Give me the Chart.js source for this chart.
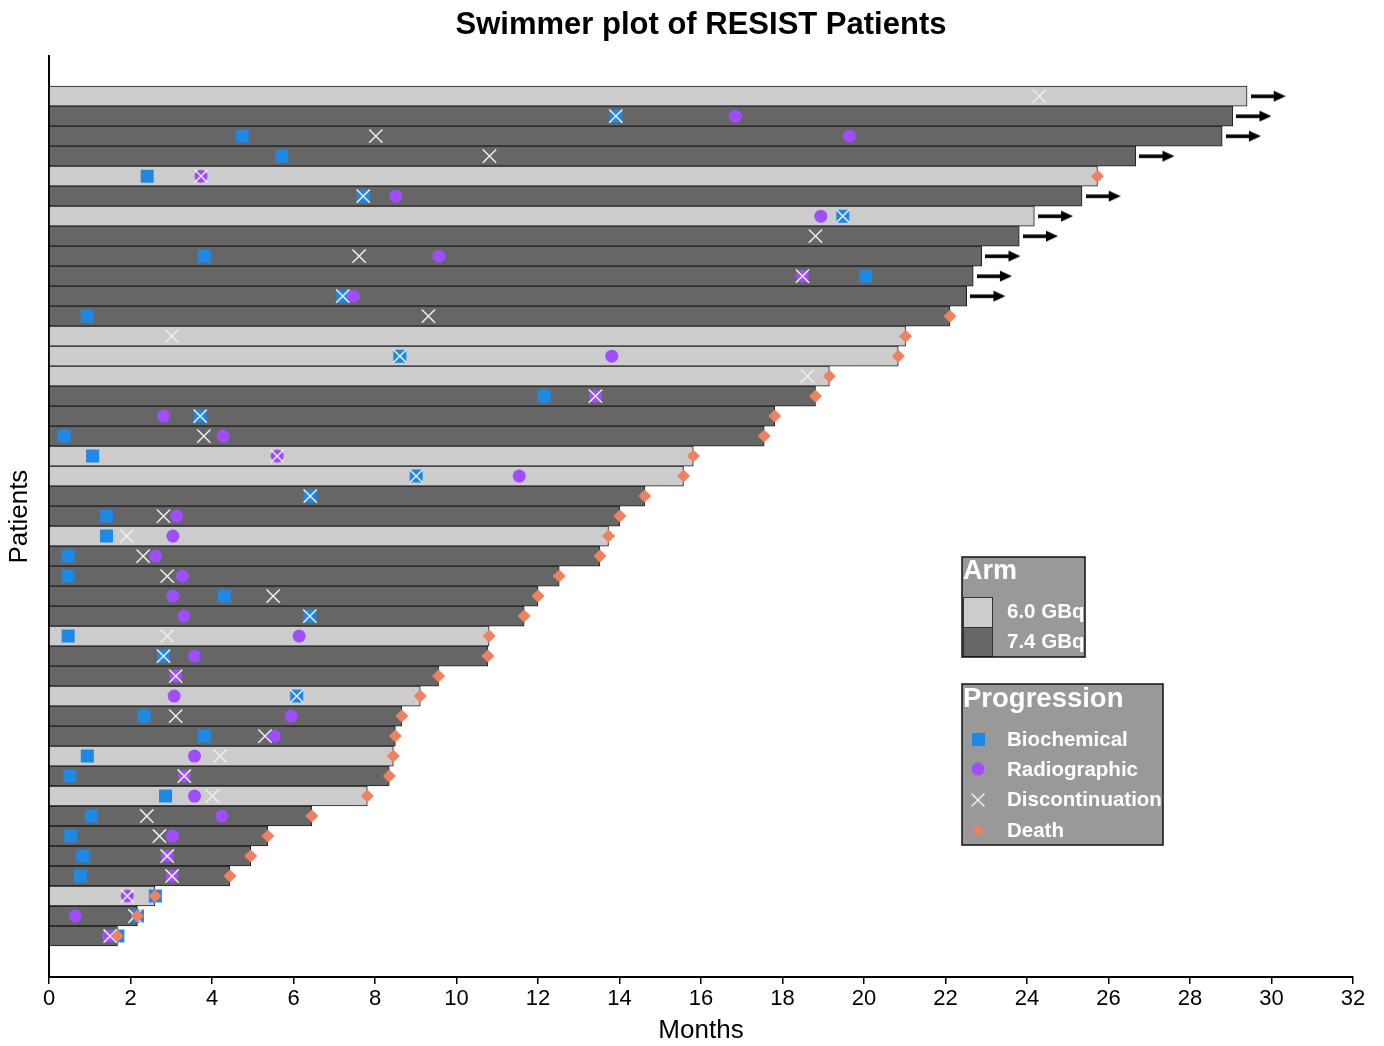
<!DOCTYPE html>
<html>
<head>
<meta charset="utf-8">
<script src="https://cdn.jsdelivr.net/npm/chart.js@4.4.1/dist/chart.umd.min.js"></script>
<style>
  html, body { margin: 0; padding: 0; background: #fff; }
  #wrap { width: 1384px; height: 1046px; position: relative; }
</style>
</head>
<body>
<div id="wrap"><canvas id="myChart"></canvas></div>
<script>
// one row per patient, top to bottom
const patients = [1,2,3,4,5,6,7,8,9,10,11,12,13,14,15,16,17,18,19,20,21,22,23,24,25,26,27,28,29,30,31,32,33,34,35,36,37,38,39,40,41,42,43];
const months = [29.4, 29.05, 28.79, 26.67, 25.73, 25.35, 24.18, 23.81, 22.89, 22.68, 22.52, 22.11, 21.02, 20.84, 19.15, 18.81, 17.81, 17.55, 15.81, 15.57, 14.62, 14.01, 13.73, 13.52, 12.52, 12.0, 11.66, 10.8, 10.77, 9.56, 9.11, 8.66, 8.5, 8.45, 8.35, 7.81, 6.45, 5.37, 4.95, 4.44, 2.6, 2.17, 1.68];
const arms = ['6.0','7.4','7.4','7.4','6.0','7.4','6.0','7.4','7.4','7.4','7.4','7.4','6.0','6.0','6.0','7.4','7.4','7.4','6.0','6.0','7.4','7.4','6.0','7.4','7.4','7.4','7.4','6.0','7.4','7.4','6.0','7.4','7.4','6.0','7.4','6.0','7.4','7.4','7.4','7.4','6.0','7.4','7.4'];
const biochemical = [null, 13.91, 4.74, 5.71, 2.41, 7.71, 19.48, null, 3.81, 20.04, 7.21, 0.94, null, 8.61, null, 12.15, 3.71, 0.37, 1.07, 9.01, 6.41, 1.41, 1.41, 0.47, 0.47, 4.30, 6.40, 0.47, 2.81, null, 6.08, 2.33, 3.81, 0.94, 0.51, 2.86, 1.04, 0.53, 0.83, 0.77, 2.61, 2.17, 1.69];
const radiographic = [null, 16.84, 19.64, null, 3.73, 8.51, 18.94, null, 9.57, 18.49, 7.47, null, null, 13.81, null, 13.41, 2.81, 4.27, 5.60, 11.54, null, 3.13, 3.04, 2.61, 3.27, 3.04, 3.31, 6.14, 3.57, 3.11, 3.07, 5.94, 5.53, 3.57, 3.32, 3.57, 4.24, 3.03, 2.90, 3.02, 1.92, 0.64, 1.46];
const discontinuation = [24.3, 13.91, 8.02, 10.81, 3.73, 7.71, 19.48, 18.81, 7.61, 18.49, 7.21, 9.31, 3.01, 8.61, 18.61, 13.41, 3.71, 3.80, 5.60, 9.01, 6.41, 2.81, 1.91, 2.31, 2.90, 5.50, 6.40, 2.90, 2.81, 3.11, 6.08, 3.11, 5.30, 4.20, 3.32, 4.01, 2.40, 2.71, 2.90, 3.02, 1.92, 2.11, 1.50];
// true = still on study (arrow), false = death at end of bar
const ongoing = [true, true, true, true, false, true, true, true, true, true, true, false, false, false, false, false, false, false, false, false, false, false, false, false, false, false, false, false, false, false, false, false, false, false, false, false, false, false, false, false, false, false, false];
const xTicks = [0, 2, 4, 6, 8, 10, 12, 14, 16, 18, 20, 22, 24, 26, 28, 30, 32];

const armColors = { '6.0': '#cccccc', '7.4': '#666666' };
const blue = '#1e88e5';
const purple = '#a04cff';
const cross = '#eeeeee';
const salmon = '#ef8060';

function points(vals) {
  const out = [];
  vals.forEach((v, i) => { if (v !== null) out.push({ x: v, y: patients[i] }); });
  return out;
}

// arrow picture used as point style
const arrow = document.createElement('canvas');
arrow.width = 35; arrow.height = 12;
(function () {
  const c = arrow.getContext('2d');
  c.fillStyle = '#000';
  c.fillRect(0, 4.3, 25, 3.6);
  c.beginPath();
  c.moveTo(23, 0.5); c.lineTo(35, 6); c.lineTo(23, 11.5);
  c.closePath();
  c.fill();
})();

const arrowPoints = [];
months.forEach((m, i) => { if (ongoing[i]) arrowPoints.push({ x: m + 0.52, y: patients[i] }); });
const deathPoints = [];
months.forEach((m, i) => { if (!ongoing[i]) deathPoints.push({ x: m, y: patients[i] }); });

const legendPlugin = {
  id: 'swimLegend',
  afterDraw(chart) {
    const ctx = chart.ctx;
    ctx.save();
    const labelFont = 'bold 20.5px "Liberation Sans", Arial, sans-serif';

    // Arm box
    ctx.fillStyle = '#999999';
    ctx.fillRect(962, 557, 123, 100);
    ctx.save();
    ctx.beginPath(); ctx.rect(962, 557, 123, 100); ctx.clip();
    ctx.fillStyle = '#fff';
    ctx.textBaseline = 'middle';
    ctx.font = 'bold 27px "Liberation Sans", Arial, sans-serif';
    ctx.fillText('Arm', 963, 572);
    ctx.fillStyle = armColors['6.0'];
    ctx.fillRect(963, 597, 29, 30);
    ctx.fillStyle = armColors['7.4'];
    ctx.fillRect(963, 627, 29, 30);
    ctx.strokeStyle = '#333'; ctx.lineWidth = 1;
    ctx.strokeRect(963.5, 597.5, 29, 30);
    ctx.strokeRect(963.5, 627.5, 29, 29);
    ctx.fillStyle = '#fff';
    ctx.font = labelFont;
    ctx.fillText('6.0 GBq', 1007, 612);
    ctx.fillText('7.4 GBq', 1007, 642);
    ctx.restore();
    ctx.strokeStyle = '#111'; ctx.lineWidth = 1.5;
    ctx.strokeRect(962, 557, 123, 100);

    // Progression box
    ctx.fillStyle = '#999999';
    ctx.fillRect(962, 684, 201, 161);
    ctx.save();
    ctx.beginPath(); ctx.rect(962, 684, 201, 161); ctx.clip();
    ctx.fillStyle = '#fff';
    ctx.textBaseline = 'middle';
    ctx.font = 'bold 27.5px "Liberation Sans", Arial, sans-serif';
    ctx.fillText('Progression', 963, 699);
    ctx.font = labelFont;
    ctx.fillText('Biochemical', 1007, 740);
    ctx.fillText('Radiographic', 1007, 770);
    ctx.fillText('Discontinuation', 1007, 800);
    ctx.fillText('Death', 1007, 831);
    ctx.fillStyle = blue;
    ctx.fillRect(972, 733, 13, 13);
    ctx.fillStyle = purple;
    ctx.beginPath(); ctx.arc(978, 769, 6.5, 0, Math.PI * 2); ctx.fill();
    ctx.strokeStyle = cross; ctx.lineWidth = 1.5;
    ctx.beginPath();
    ctx.moveTo(971.5, 793.5); ctx.lineTo(984.5, 806.5);
    ctx.moveTo(984.5, 793.5); ctx.lineTo(971.5, 806.5);
    ctx.stroke();
    ctx.fillStyle = salmon;
    ctx.beginPath();
    ctx.moveTo(978, 824.5); ctx.lineTo(984, 830.5); ctx.lineTo(978, 836.5); ctx.lineTo(972, 830.5);
    ctx.closePath(); ctx.fill();
    ctx.restore();
    ctx.strokeStyle = '#111'; ctx.lineWidth = 1.5;
    ctx.strokeRect(962, 684, 201, 161);
    ctx.restore();
  }
};

const ctx = document.getElementById('myChart');

new Chart(ctx, {
  type: 'bar',
  data: {
    datasets: [
      {
        type: 'scatter',
        label: 'Death',
        data: deathPoints,
        pointStyle: 'rectRot',
        pointRadius: 6.5,
        pointHoverRadius: 6.5,
        backgroundColor: salmon,
        borderWidth: 0,
        order: 1
      },
      {
        type: 'scatter',
        label: 'Discontinuation',
        data: points(discontinuation),
        pointStyle: 'crossRot',
        pointRadius: 9.4,
        pointHoverRadius: 9.4,
        borderColor: cross,
        borderWidth: 1.5,
        order: 2
      },
      {
        type: 'scatter',
        label: 'Radiographic',
        data: points(radiographic),
        pointStyle: 'circle',
        pointRadius: 6.5,
        pointHoverRadius: 6.5,
        backgroundColor: purple,
        borderWidth: 0,
        order: 3
      },
      {
        type: 'scatter',
        label: 'Biochemical',
        data: points(biochemical),
        pointStyle: 'rect',
        pointRadius: 9.2,
        pointHoverRadius: 9.2,
        backgroundColor: blue,
        borderWidth: 0,
        order: 4
      },
      {
        type: 'scatter',
        label: 'Ongoing',
        data: arrowPoints,
        pointStyle: arrow,
        order: 5
      },
      {
        type: 'bar',
        label: 'Arm',
        indexAxis: 'y',
        data: patients.map((p, i) => ({ x: months[i], y: p })),
        backgroundColor: arms.map(a => armColors[a]),
        borderColor: '#1c1c1c',
        borderWidth: 1,
        barPercentage: 1,
        categoryPercentage: 1,
        order: 6
      }
    ]
  },
  options: {
    responsive: true,
    maintainAspectRatio: false,
    animation: false,
    events: [],
    layout: { padding: { left: 0, right: 31, top: 0, bottom: 0 } },
    plugins: {
      legend: { display: false },
      tooltip: { enabled: false },
      title: {
        display: true,
        text: 'Swimmer plot of RESIST Patients',
        color: '#000',
        fullSize: false,
        font: { family: '"Liberation Sans", Arial, sans-serif', size: 31, weight: 'bold' },
        padding: { top: 7, bottom: 12 }
      }
    },
    scales: {
      x: {
        type: 'linear',
        min: 0,
        max: 32,
        offset: false,
        afterBuildTicks: (s) => { s.ticks = xTicks.map(v => ({ value: v })); },
        afterFit: (s) => { s.height = 69; },
        ticks: {
          color: '#000',
          padding: 2,
          maxRotation: 0,
          font: { family: '"Liberation Sans", Arial, sans-serif', size: 22 }
        },
        grid: { offset: false, drawOnChartArea: false, drawTicks: true, tickLength: 7, color: '#000', lineWidth: 1.5 },
        border: { display: true, color: '#000', width: 2 },
        title: {
          display: true,
          text: 'Months',
          color: '#000',
          font: { family: '"Liberation Sans", Arial, sans-serif', size: 26 },
          padding: { top: 0, bottom: 0 }
        }
      },
      y: {
        type: 'linear',
        reverse: true,
        min: -1,
        max: 45.05,
        offset: false,
        afterFit: (s) => { s.width = 49; },
        ticks: { display: false },
        grid: { display: false, offset: false },
        border: { display: true, color: '#000', width: 2 },
        title: {
          display: true,
          text: 'Patients',
          color: '#000',
          font: { family: '"Liberation Sans", Arial, sans-serif', size: 26 },
          padding: { top: 4, bottom: 0 }
        }
      }
    }
  },
  plugins: [legendPlugin]
});
</script>
</body>
</html>
